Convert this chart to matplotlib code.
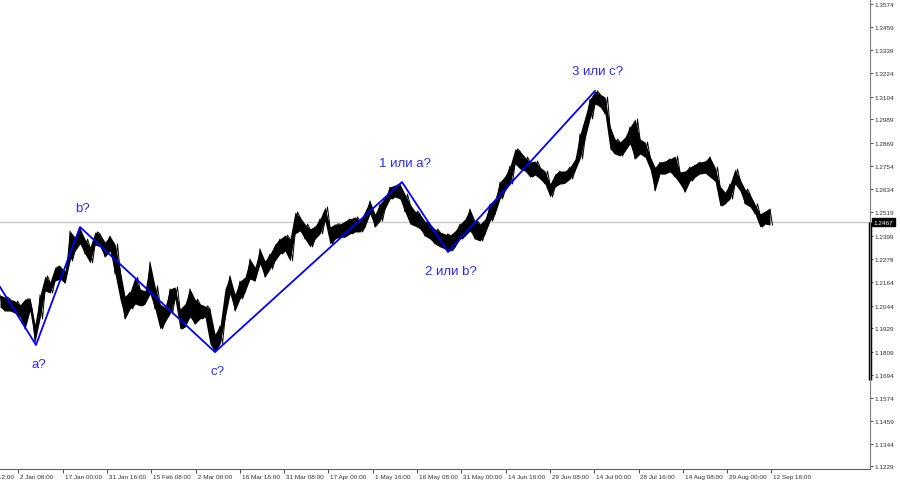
import numpy as np
import matplotlib.pyplot as plt
from matplotlib.transforms import blended_transform_factory

plt.rcParams['font.family'] = ['Liberation Sans', 'DejaVu Sans']

# price band, one sample every 5 bar-units
highs = [1.2098, 1.2088, 1.2078, 1.2068, 1.2048, 1.2078, 1.2078, 1.1951, 1.2098, 1.2195,
         1.2164, 1.2240, 1.2245, 1.2220, 1.2423, 1.2392, 1.2438, 1.2382, 1.2342, 1.2418,
         1.2408, 1.2367, 1.2397, 1.2357, 1.2230, 1.2093, 1.2113, 1.2189, 1.2129, 1.2119,
         1.2266, 1.2144, 1.2053, 1.2037, 1.2129, 1.2139, 1.2027, 1.2053, 1.2129, 1.2078,
         1.2053, 1.2043, 1.2027, 1.1901, 1.1941, 1.2129, 1.2195, 1.2103, 1.2169, 1.2189,
         1.2281, 1.2240, 1.2332, 1.2271, 1.2306, 1.2357, 1.2382, 1.2402, 1.2382, 1.2519,
         1.2494, 1.2458, 1.2433, 1.2448, 1.2484, 1.2544, 1.2443, 1.2458, 1.2458, 1.2473,
         1.2484, 1.2494, 1.2473, 1.2524, 1.2575, 1.2509, 1.2560, 1.2595, 1.2646, 1.2656,
         1.2661, 1.2610, 1.2560, 1.2524, 1.2509, 1.2473, 1.2458, 1.2433, 1.2418, 1.2408,
         1.2402, 1.2423, 1.2458, 1.2484, 1.2534, 1.2473, 1.2458, 1.2484, 1.2560, 1.2585,
         1.2671, 1.2702, 1.2752, 1.2839, 1.2828, 1.2798, 1.2772, 1.2778, 1.2747, 1.2727,
         1.2661, 1.2712, 1.2727, 1.2727, 1.2747, 1.2788, 1.2915, 1.3001, 1.3092, 1.3133,
         1.3117, 1.3102, 1.2955, 1.2889, 1.2874, 1.2899, 1.2950, 1.2991, 1.2889, 1.2874,
         1.2803, 1.2747, 1.2772, 1.2778, 1.2788, 1.2803, 1.2722, 1.2727, 1.2747, 1.2762,
         1.2772, 1.2778, 1.2798, 1.2747, 1.2651, 1.2620, 1.2661, 1.2737, 1.2686, 1.2636,
         1.2610, 1.2560, 1.2509, 1.2524, 1.2534]
lows = [1.2037, 1.2017, 1.2017, 1.2007, 1.1987, 1.1926, 1.2017, 1.1860, 1.1977, 1.2119,
        1.2108, 1.2169, 1.2179, 1.2159, 1.2271, 1.2321, 1.2357, 1.2306, 1.2261, 1.2352,
        1.2342, 1.2291, 1.2321, 1.2205, 1.2078, 1.1977, 1.2027, 1.2053, 1.2043, 1.2053,
        1.2103, 1.2027, 1.1926, 1.1961, 1.2002, 1.2078, 1.1926, 1.1936, 1.1987, 1.1951,
        1.1977, 1.1987, 1.1850, 1.1809, 1.1850, 1.1977, 1.2103, 1.2017, 1.2078, 1.2113,
        1.2179, 1.2169, 1.2255, 1.2189, 1.2230, 1.2271, 1.2306, 1.2321, 1.2271, 1.2408,
        1.2423, 1.2382, 1.2342, 1.2382, 1.2408, 1.2473, 1.2357, 1.2382, 1.2392, 1.2392,
        1.2408, 1.2418, 1.2418, 1.2443, 1.2509, 1.2443, 1.2473, 1.2534, 1.2585, 1.2595,
        1.2585, 1.2519, 1.2458, 1.2448, 1.2433, 1.2397, 1.2382, 1.2357, 1.2342, 1.2332,
        1.2321, 1.2342, 1.2382, 1.2397, 1.2423, 1.2382, 1.2372, 1.2408, 1.2473, 1.2509,
        1.2585, 1.2626, 1.2661, 1.2763, 1.2737, 1.2727, 1.2696, 1.2707, 1.2686, 1.2661,
        1.2595, 1.2646, 1.2661, 1.2666, 1.2686, 1.2727, 1.2788, 1.2889, 1.2991, 1.3067,
        1.3052, 1.3016, 1.2839, 1.2813, 1.2803, 1.2828, 1.2864, 1.2788, 1.2813, 1.2798,
        1.2737, 1.2626, 1.2712, 1.2712, 1.2722, 1.2696, 1.2661, 1.2620, 1.2676, 1.2696,
        1.2712, 1.2717, 1.2696, 1.2676, 1.2550, 1.2560, 1.2585, 1.2661, 1.2626, 1.2560,
        1.2545, 1.2509, 1.2443, 1.2458, 1.2453]
last_price = 1.2467

# wave markup
wave_bars = [0, 36, 80, 215, 402, 448, 595]
wave_prices = [1.2139, 1.1845, 1.2443, 1.1809, 1.2671, 1.2316, 1.3133]
wave_labels = ['', 'a?', 'b?', 'c?', '1 или a?', '2 или b?', '3 или c?']
label_above = [True, False, True, False, True, False, True]

yticks = [1.3574, 1.3459, 1.3339, 1.3224, 1.3104, 1.2989, 1.2869, 1.2754, 1.2634, 1.2519,
          1.2399, 1.2279, 1.2164, 1.2044, 1.1929, 1.1809, 1.1694, 1.1574, 1.1459, 1.1344,
          1.1229]
xtick_labels = ['16 Dec 12:00', '2 Jan 08:00', '17 Jan 00:00', '31 Jan 16:00', '15 Feb 08:00',
                '2 Mar 00:00', '16 Mar 16:00', '31 Mar 08:00', '17 Apr 00:00', '1 May 16:00',
                '16 May 08:00', '31 May 00:00', '14 Jun 16:00', '29 Jun 08:00', '14 Jul 00:00',
                '28 Jul 16:00', '14 Aug 08:00', '29 Aug 00:00', '12 Sep 16:00']

fig = plt.figure(figsize=(9, 4.85), dpi=100)
ax = fig.add_axes([0, 15 / 485, 870 / 900, 470 / 485])
ax.set_xlim(0, 870)
ax.set_ylim(1.1216, 1.3599)

step = 5
x = np.arange(len(highs)) * step
# zig-zag through highs and lows so it looks like a dense bar series
px = np.empty(2 * len(x))
py = np.empty(2 * len(x))
px[0::2] = x
px[1::2] = x + step / 2
py[0::2] = highs
py[1::2] = lows
py[2::4] = lows[1::2]
py[3::4] = highs[1::2]
ax.fill_between(x, lows, highs, color='black', lw=0)
ax.plot(px, py, color='black', lw=0.7)

ax.axhline(last_price, color='#c8c8c8', lw=1, zorder=0)

ax.plot(wave_bars, wave_prices, color='#0000ff', lw=1.3)
for xb, yp, lab, up in zip(wave_bars, wave_prices, wave_labels, label_above):
    if not lab:
        continue
    ax.annotate(lab, (xb, yp), xytext=(2, 14 if up else -14), textcoords='offset points',
                ha='center', va='center', color='#2828ff', fontsize=9.5)

for s in ['top', 'left']:
    ax.spines[s].set_visible(False)
ax.spines['right'].set_color('#808080')
ax.spines['bottom'].set_color('#606060')

ax.yaxis.tick_right()
ax.set_yticks(yticks)
ax.set_yticklabels(['%.4f' % v for v in yticks])
ax.tick_params(axis='y', length=2.5, width=0.6, pad=1, labelsize=4.6, colors='#303030')

# bottom ticks, labels start right of the tick like the terminal does
tick_pos = [-26 + 44.3 * i for i in range(len(xtick_labels))]
ax.set_xticks([t for t in tick_pos if t >= 0])
ax.set_xticklabels([])
ax.tick_params(axis='x', length=3, width=0.6, colors='#303030')
trans = blended_transform_factory(ax.transData, ax.transAxes)
for t, lab in zip(tick_pos, xtick_labels):
    ax.text(t + 2, -0.016, lab, transform=trans, ha='left', va='center',
            fontsize=4.6, color='#303030', clip_on=False)

# current price box and the black marker on the price scale
ax.plot([1.0, 1.0], [last_price, 1.1668], transform=blended_transform_factory(ax.transAxes, ax.transData),
        color='black', lw=2.5, clip_on=False, solid_capstyle='butt')
ax.text(1.004, last_price, '%.4f' % last_price, transform=blended_transform_factory(ax.transAxes, ax.transData),
        ha='left', va='center', fontsize=4.6, color='white',
        bbox=dict(boxstyle='square,pad=0.25', fc='black', ec='black'), clip_on=False)

fig.savefig('out.png', dpi=100)
